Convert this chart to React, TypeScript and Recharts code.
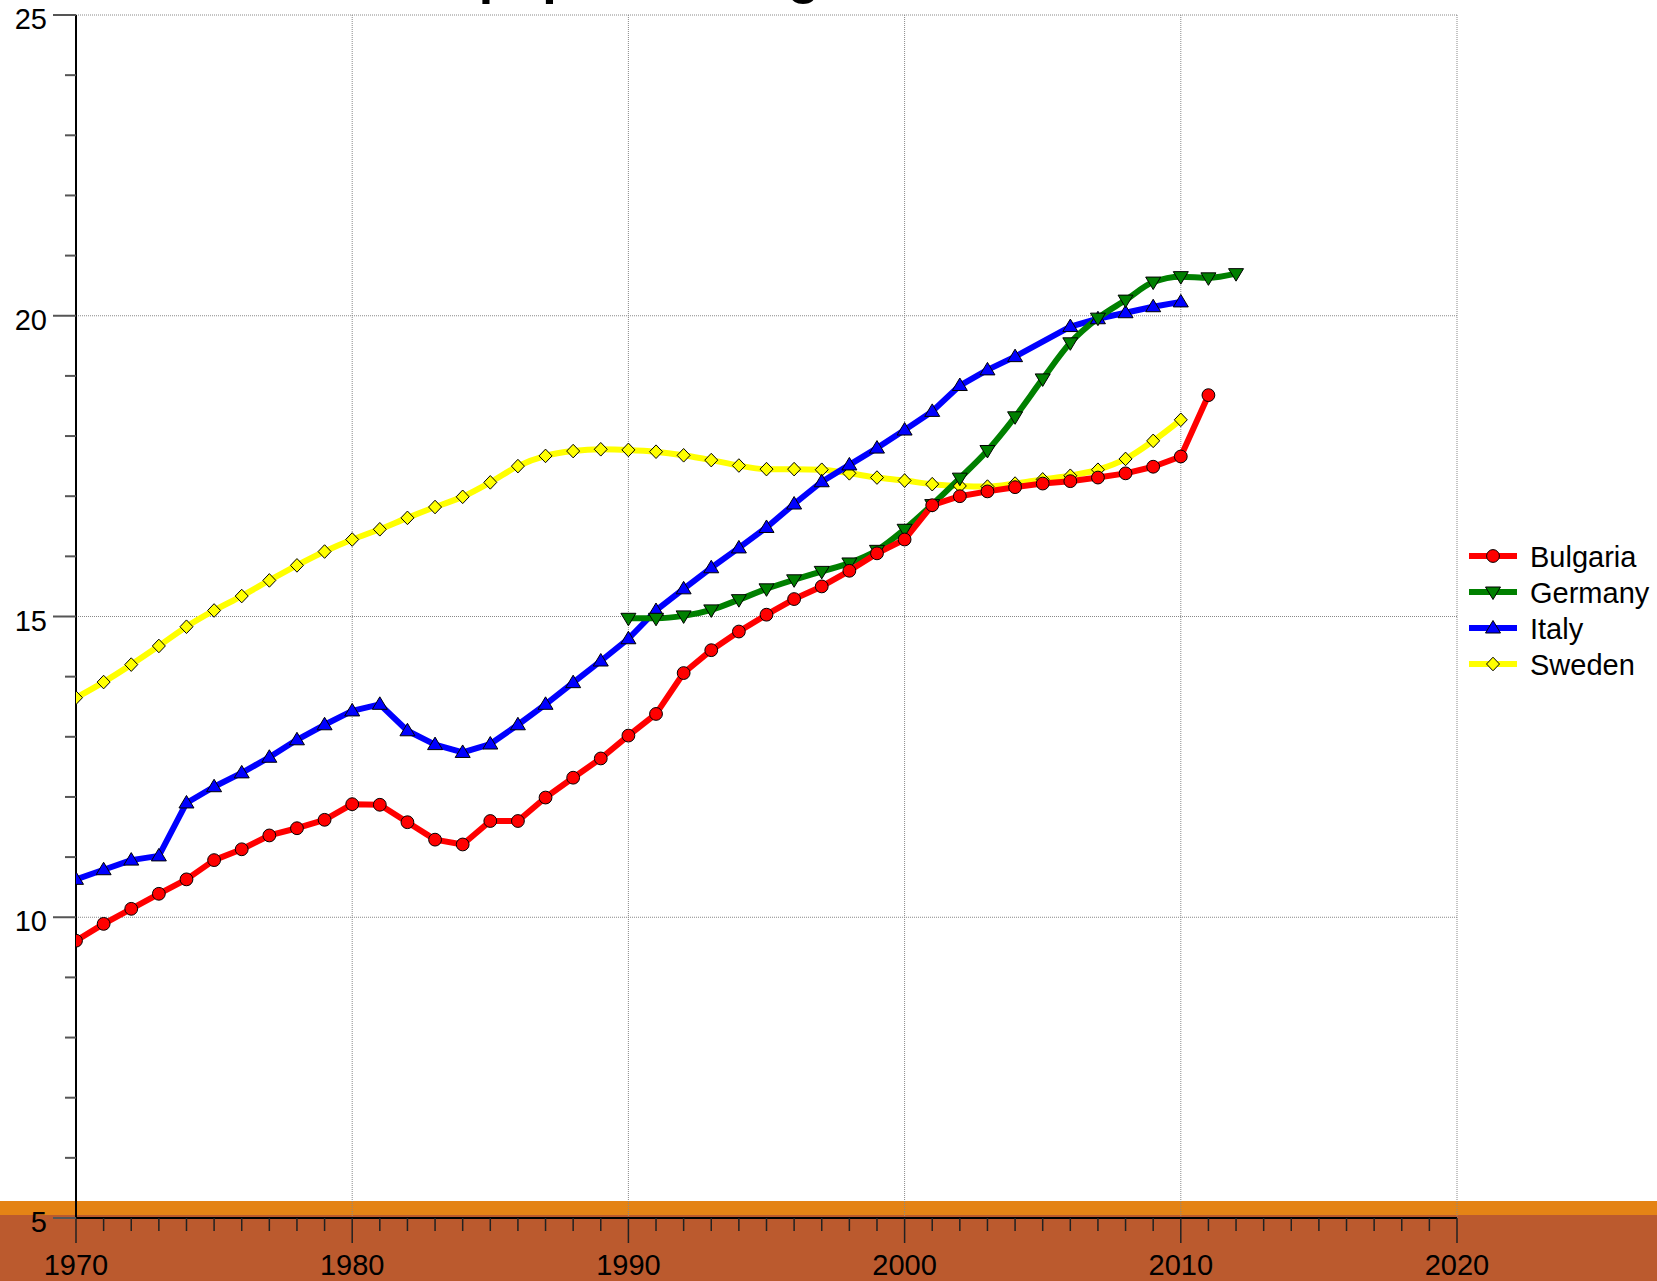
import React from "react";
import { LineChart, Line, XAxis, YAxis, ReferenceLine } from "recharts";

// values, one entry per year 1970..2012
const years = [
  1970, 1971, 1972, 1973, 1974, 1975, 1976, 1977, 1978, 1979,
  1980, 1981, 1982, 1983, 1984, 1985, 1986, 1987, 1988, 1989,
  1990, 1991, 1992, 1993, 1994, 1995, 1996, 1997, 1998, 1999,
  2000, 2001, 2002, 2003, 2004, 2005, 2006, 2007, 2008, 2009,
  2010, 2011, 2012,
];

const bulgaria = [
  9.61, 9.89, 10.14, 10.39, 10.63, 10.95, 11.13, 11.36, 11.48, 11.62,
  11.88, 11.87, 11.58, 11.29, 11.21, 11.6, 11.6, 11.99, 12.32, 12.64,
  13.02, 13.38, 14.06, 14.44, 14.75, 15.03, 15.29, 15.5, 15.76, 16.05,
  16.28, 16.85, 17.0, 17.08, 17.15, 17.21, 17.25, 17.31, 17.38, 17.49,
  17.66, 18.68, null,
];

const germany = [
  null, null, null, null, null, null, null, null, null, null,
  null, null, null, null, null, null, null, null, null, null,
  14.97, 14.97, 15.01, 15.11, 15.28, 15.46, 15.61, 15.75, 15.89, 16.1,
  16.45, 16.86, 17.3, 17.76, 18.32, 18.95, 19.55, 19.96, 20.26, 20.56,
  20.65, 20.63, 20.7,
];

const italy = [
  10.63, 10.79, 10.95, 11.02, 11.9, 12.17, 12.4, 12.66, 12.95, 13.2,
  13.43, 13.54, 13.1, 12.87, 12.74, 12.88, 13.2, 13.54, 13.9, 14.26,
  14.63, 15.1, 15.46, 15.81, 16.14, 16.48, 16.87, 17.24, 17.52, 17.8,
  18.1, 18.41, 18.84, 19.1, 19.32, null, 19.82, 19.95, 20.05, 20.15,
  20.23, null, null,
];

const sweden = [
  13.65, 13.91, 14.2, 14.51, 14.83, 15.1, 15.34, 15.6, 15.85, 16.08,
  16.28, 16.45, 16.64, 16.82, 16.99, 17.23, 17.5, 17.67, 17.75, 17.78,
  17.77, 17.74, 17.68, 17.6, 17.51, 17.45, 17.45, 17.44, 17.38, 17.31,
  17.26, 17.2, 17.17, 17.16, 17.21, 17.28, 17.34, 17.44, 17.62, 17.92,
  18.27, null, null,
];

const yTicks = [5, 6, 7, 8, 9, 10, 11, 12, 13, 14, 15, 16, 17, 18, 19, 20, 21, 22, 23, 24, 25];
const xTicks = Array.from({ length: 51 }, (_, i) => 1970 + i);
const gridYears = [1980, 1990, 2000, 2010, 2020];
const gridValues = [10, 15, 20, 25];

const data = years.map((year, i) => ({
  year,
  bulgaria: bulgaria[i],
  germany: germany[i],
  italy: italy[i],
  sweden: sweden[i],
}));

const FONT = "'Liberation Sans', Arial, sans-serif";

// drawing order: Sweden at the bottom, Bulgaria on top
const series = [
  { key: "sweden", name: "Sweden", color: "#ffff00", shape: "diamond", curve: "monotone" },
  { key: "italy", name: "Italy", color: "#0000ff", shape: "up", curve: "linear" },
  { key: "germany", name: "Germany", color: "#008000", shape: "down", curve: "monotone" },
  { key: "bulgaria", name: "Bulgaria", color: "#ff0000", shape: "circle", curve: "linear" },
];
const legendOrder = ["bulgaria", "germany", "italy", "sweden"];

function Marker({ shape, cx, cy, fill }: { shape: string; cx: number; cy: number; fill: string }) {
  const common = { fill, stroke: "#000", strokeWidth: 1 };
  if (shape === "circle") return <circle cx={cx} cy={cy} r={6.4} {...common} />;
  if (shape === "up")
    return <polygon points={`${cx},${cy - 7.5} ${cx + 7.5},${cy + 5} ${cx - 7.5},${cy + 5}`} {...common} />;
  if (shape === "down")
    return <polygon points={`${cx - 7.5},${cy - 5} ${cx + 7.5},${cy - 5} ${cx},${cy + 7.5}`} {...common} />;
  return (
    <polygon
      points={`${cx},${cy - 6.8} ${cx + 6.5},${cy} ${cx},${cy + 6.8} ${cx - 6.5},${cy}`}
      {...common}
    />
  );
}

const makeDot = (shape: string, fill: string) => (props: any) => {
  const { cx, cy, index, value } = props;
  if (cx == null || cy == null || value == null || Number.isNaN(cy)) return <g key={`d-${index}`} />;
  return (
    <g key={`d-${index}`}>
      <Marker shape={shape} cx={cx} cy={cy} fill={fill} />
    </g>
  );
};

function YTick(props: any) {
  const { x, y, payload } = props;
  const major = payload.value % 5 === 0;
  return (
    <g>
      <line x1={x - (major ? 23 : 11)} x2={x} y1={y} y2={y} stroke="#555" strokeWidth={2} />
      {major && (
        <text x={x - 29} y={y + 14} textAnchor="end" fontSize={29} fontFamily={FONT} fill="#000">
          {payload.value}
        </text>
      )}
    </g>
  );
}

function XTick(props: any) {
  const { x, y, payload } = props;
  const major = payload.value % 10 === 0;
  return (
    <g>
      <line x1={x} x2={x} y1={y} y2={y + (major ? 25 : 13)} stroke="#222" strokeWidth={1.5} />
      {major && (
        <text x={x} y={y + 57} textAnchor="middle" fontSize={29} fontFamily={FONT} fill="#000">
          {payload.value}
        </text>
      )}
    </g>
  );
}

export default function App() {
  const legendItems = legendOrder.map((k) => series.find((s) => s.key === k)!);
  return (
    <div
      style={{
        position: "absolute",
        left: 0,
        top: 0,
        width: 1657,
        height: 1281,
        overflow: "hidden",
        background: "#fff",
      }}
    >
      <div style={{ position: "absolute", left: 0, top: 1201, width: 1657, height: 14, background: "#e48315" }} />
      <div style={{ position: "absolute", left: 0, top: 1215, width: 1657, height: 66, background: "#bb5a2e" }} />

      <div style={{ position: "absolute", left: 0, top: 0 }}>
        <LineChart
          width={1657}
          height={1281}
          data={data}
          margin={{ top: 15, right: 200, bottom: 0, left: 0 }}
        >
          <XAxis
            dataKey="year"
            type="number"
            domain={[1970, 2020]}
            ticks={xTicks}
            interval={0}
            height={63}
            tickSize={0}
            tickMargin={0}
            tickLine={false}
            tick={<XTick />}
            axisLine={{ stroke: "#000", strokeWidth: 2 }}
            allowDataOverflow
          />
          <YAxis
            type="number"
            domain={[5, 25]}
            ticks={yTicks}
            interval={0}
            width={76}
            tickSize={0}
            tickMargin={0}
            tickLine={false}
            tick={<YTick />}
            axisLine={{ stroke: "#000", strokeWidth: 2 }}
            allowDataOverflow
          />
          {gridValues.map((v) => (
            <ReferenceLine key={`gy-${v}`} y={v} stroke="#888" strokeWidth={1} strokeDasharray="1 1" />
          ))}
          {gridYears.map((yr) => (
            <ReferenceLine key={`gx-${yr}`} x={yr} stroke="#888" strokeWidth={1} strokeDasharray="1 1" />
          ))}
          {series.map((s) => (
            <Line
              key={s.key}
              dataKey={s.key}
              name={s.name}
              type={s.curve as any}
              stroke={s.color}
              strokeWidth={6}
              strokeLinejoin="round"
              strokeLinecap="round"
              connectNulls
              dot={makeDot(s.shape, s.color)}
              activeDot={false}
              isAnimationActive={false}
            />
          ))}
        </LineChart>
      </div>

      <svg
        width={1657}
        height={1281}
        style={{ position: "absolute", left: 0, top: 0, pointerEvents: "none" }}
      >
        <text x={720} y={-7.5} textAnchor="middle" fontSize={52} fontWeight="bold" fontFamily={FONT} fill="#000">
          Share of population aged 65 and over
        </text>
        {legendItems.map((s, i) => {
          const cy = 556 + i * 36;
          return (
            <g key={s.key}>
              <line x1={1469} x2={1517} y1={cy} y2={cy} stroke={s.color} strokeWidth={6} />
              <Marker shape={s.shape} cx={1493} cy={cy} fill={s.color} />
              <text x={1530} y={cy + 11} fontSize={29} fontFamily={FONT} fill="#000">
                {s.name}
              </text>
            </g>
          );
        })}
      </svg>
    </div>
  );
}
